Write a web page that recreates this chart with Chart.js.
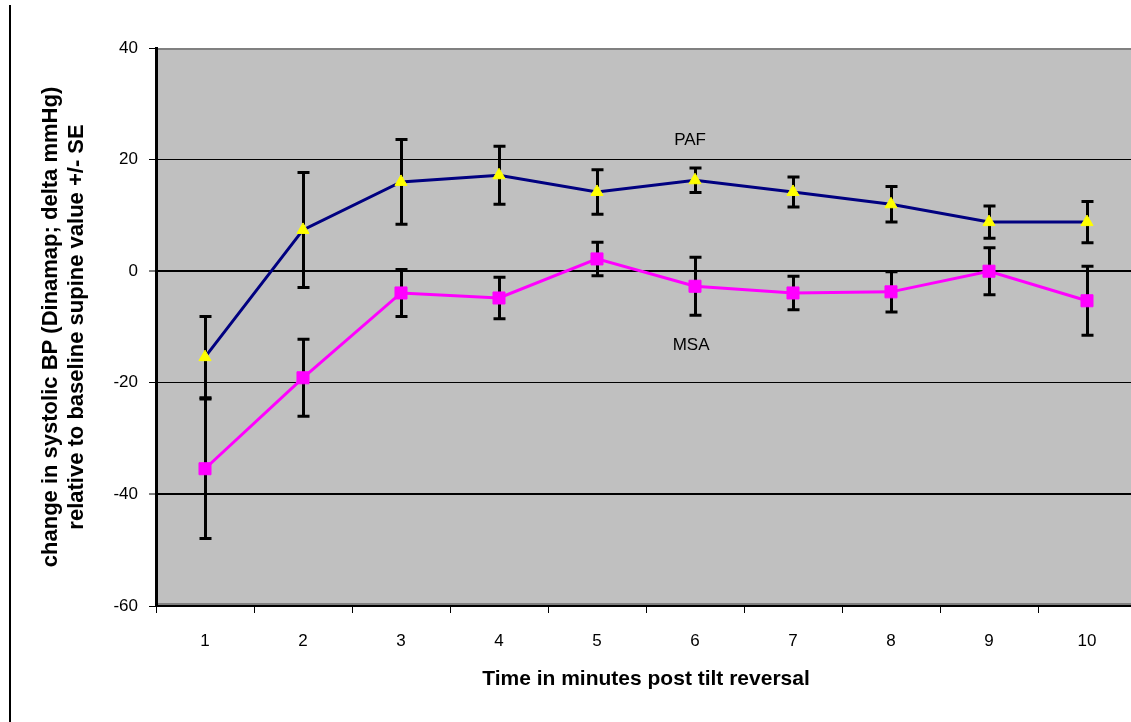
<!DOCTYPE html>
<html>
<head>
<meta charset="utf-8">
<title>Systolic BP after tilt reversal</title>
<script src="https://cdn.jsdelivr.net/npm/chart.js@4.4.1/dist/chart.umd.min.js"></script>
<style>
  html, body { margin: 0; padding: 0; background: #ffffff; overflow: hidden; }
  #wrap { position: relative; width: 1131px; height: 722px; overflow: hidden; }
  #frameLine { position: absolute; left: 9px; top: 5px; width: 0; height: 717px; border-left: 2px solid #000; }
  canvas { position: absolute; left: 0; top: 0; }
</style>
</head>
<body>
<div id="wrap">
  <canvas id="bp" width="1136" height="722"></canvas>
  <div id="frameLine"></div>
</div>
<script>
// Minutes after tilt reversal
const minutes = ['1', '2', '3', '4', '5', '6', '7', '8', '9', '10'];

// PAF group: mean change and standard error (mmHg)
const pafMean = [-15.4, 7.4, 16.0, 17.2, 14.2, 16.3, 14.2, 12.0, 8.8, 8.8];
const pafSE   = [7.3, 10.3, 7.6, 5.2, 4.0, 2.2, 2.7, 3.2, 2.9, 3.7];

// MSA group: mean change and standard error (mmHg)
const msaMean = [-35.4, -19.1, -3.9, -4.8, 2.2, -2.7, -3.9, -3.7, 0.0, -5.3];
const msaSE   = [12.5, 6.9, 4.2, 3.7, 3.0, 5.2, 3.0, 3.6, 4.2, 6.2];

// Y axis range and tick step
const yMin = -60;
const yMax = 40;
const yStep = 20;

// Series name labels placed in data space (category index, value)
const seriesNotes = [
  { text: 'PAF', x: 4.95, y: 23.5 },
  { text: 'MSA', x: 4.96, y: -13.2 }
];

Chart.defaults.font.family = "'Liberation Sans', Arial, Helvetica, sans-serif";
Chart.defaults.color = '#000000';

// Grey plot background with grey top/bottom edges
const plotBackground = {
  id: 'plotBackground',
  beforeDraw(chart) {
    const { ctx, chartArea: a } = chart;
    ctx.save();
    ctx.fillStyle = '#c0c0c0';
    ctx.fillRect(a.left, a.top, a.right - a.left, a.bottom - a.top);
    ctx.fillStyle = '#808080';
    ctx.fillRect(a.left, a.top, a.right - a.left, 2);
    ctx.fillRect(a.left, a.bottom - 3, a.right - a.left, 2);
    ctx.restore();
  }
};

// Vertical +/- SE whiskers with caps
const errorBars = {
  id: 'errorBars',
  beforeDatasetsDraw(chart) {
    const { ctx } = chart;
    const y = chart.scales.y;
    const seList = [pafSE, msaSE];
    ctx.save();
    ctx.strokeStyle = '#000000';
    ctx.lineWidth = 3;
    chart.data.datasets.forEach((ds, i) => {
      const meta = chart.getDatasetMeta(i);
      const se = seList[i];
      meta.data.forEach((pt, j) => {
        const v = ds.data[j];
        const yTop = y.getPixelForValue(v + se[j]);
        const yBot = y.getPixelForValue(v - se[j]);
        const x = Math.round(pt.x) + 0.5;
        ctx.beginPath();
        ctx.moveTo(x, yTop);
        ctx.lineTo(x, yBot);
        ctx.moveTo(x - 6, yTop);
        ctx.lineTo(x + 6, yTop);
        ctx.moveTo(x - 6, yBot);
        ctx.lineTo(x + 6, yBot);
        ctx.stroke();
      });
    });
    ctx.restore();
  }
};

// Series name labels
const seriesLabels = {
  id: 'seriesLabels',
  afterDatasetsDraw(chart) {
    const { ctx, scales } = chart;
    ctx.save();
    ctx.font = "17px 'Liberation Sans', Arial, sans-serif";
    ctx.fillStyle = '#000000';
    ctx.textAlign = 'center';
    ctx.textBaseline = 'middle';
    seriesNotes.forEach(n => {
      ctx.fillText(n.text, scales.x.getPixelForValue(n.x), scales.y.getPixelForValue(n.y));
    });
    ctx.restore();
  }
};

new Chart(document.getElementById('bp'), {
  type: 'line',
  data: {
    labels: minutes,
    datasets: [
      {
        label: 'PAF',
        data: pafMean,
        borderColor: '#000080',
        borderWidth: 3,
        pointStyle: 'triangle',
        pointRadius: 7,
        pointBackgroundColor: '#ffff00',
        pointBorderColor: '#ffff00',
        pointBorderWidth: 1,
        tension: 0
      },
      {
        label: 'MSA',
        data: msaMean,
        borderColor: '#ff00ff',
        borderWidth: 3,
        pointStyle: 'rect',
        pointRadius: 8.5,
        pointBackgroundColor: '#ff00ff',
        pointBorderColor: '#ff00ff',
        pointBorderWidth: 1,
        tension: 0
      }
    ]
  },
  options: {
    responsive: false,
    animation: false,
    devicePixelRatio: 1,
    layout: { autoPadding: false, padding: { top: 48, left: 0, right: 0, bottom: 0 } },
    plugins: {
      legend: { display: false },
      tooltip: { enabled: false }
    },
    scales: {
      x: {
        type: 'category',
        offset: true,
        afterFit(scale) {
          scale.height = 116;
          scale.paddingLeft = 0;
          scale.paddingRight = 0;
        },
        grid: {
          offset: true,
          drawOnChartArea: false,
          drawTicks: true,
          tickLength: 7,
          tickColor: '#000000',
          tickWidth: 1
        },
        border: { display: true, color: '#000000', width: 2 },
        ticks: {
          font: { size: 17 },
          color: '#000000',
          padding: 18,
          maxRotation: 0,
          autoSkip: false
        },
        title: {
          display: true,
          text: 'Time in minutes post tilt reversal',
          font: { size: 21, weight: 'bold' },
          color: '#000000',
          padding: { top: 0, bottom: 30 }
        }
      },
      y: {
        min: yMin,
        max: yMax,
        afterFit(scale) { scale.width = 156; },
        grid: {
          color(ctx) {
            const v = ctx.tick && ctx.tick.value;
            return (v === yMin || v === yMax) ? 'rgba(0,0,0,0)' : '#000000';
          },
          lineWidth(ctx) {
            const v = ctx.tick && ctx.tick.value;
            return (v === 0 || v === -40) ? 2 : 1;
          },
          tickLength: 7,
          tickColor: '#000000',
          tickWidth: 1
        },
        border: { display: true, color: '#000000', width: 3 },
        ticks: {
          stepSize: yStep,
          font: { size: 17 },
          color: '#000000',
          padding: 11
        },
        title: {
          display: true,
          text: ['change in systolic BP (Dinamap; delta mmHg)', 'relative to baseline supine value +/- SE'],
          font: { size: 22, weight: 'bold', lineHeight: 1.18 },
          color: '#000000',
          padding: { top: 38, bottom: 0 }
        }
      }
    }
  },
  plugins: [plotBackground, errorBars, seriesLabels]
});
</script>
</body>
</html>
